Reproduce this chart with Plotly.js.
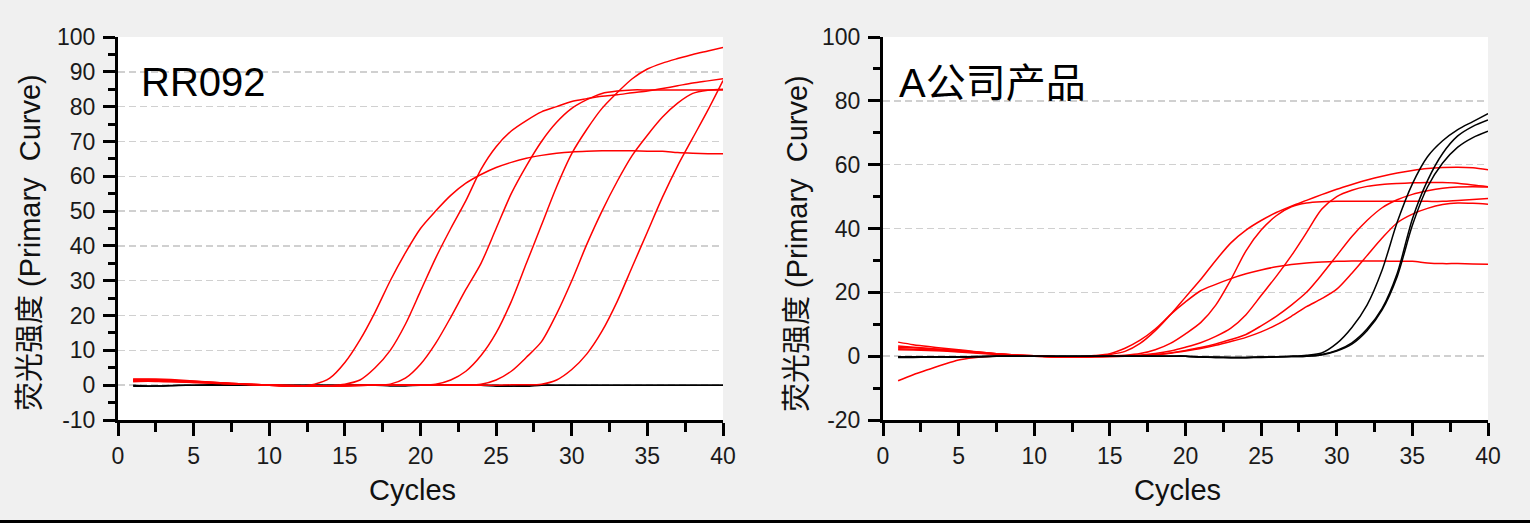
<!DOCTYPE html>
<html>
<head>
<meta charset="utf-8">
<script src="https://cdn.plot.ly/plotly-3.0.1.min.js"></script>
<style>
  html, body { margin: 0; padding: 0; background: #f0f0f0; }
  #chart { width: 1530px; height: 523px; }
</style>
</head>
<body>
<div id="chart"></div>
<script>
// ---- Data ----
const cycles = [1,2,3,4,5,6,7,8,9,10,11,12,13,14,15,16,17,18,19,20,21,22,23,24,25,26,27,28,29,30,31,32,33,34,35,36,37,38,39,40];

// Left panel: RR092 (red = samples, black = negative controls)
const rr092Red1 = [1.8,1.8,1.7,1.5,1.2,0.9,0.6,0.4,0.2,0.0,-0.2,-0.2,0.3,2,6.5,13,21,30,38,45,50,54.5,58,60.5,62.5,64,65.2,66,66.6,67,67.2,67.3,67.3,67.3,67.2,67.2,66.8,66.6,66.5,66.5];
const rr092Red2 = [1.5,1.5,1.4,1.2,1.0,0.8,0.6,0.4,0.2,0.1,-0.1,-0.2,-0.2,-0.1,0.3,1.5,5,10,17.5,27,36.5,45,53,62,68.5,73,76,78.5,80,81.5,82.3,83,83.4,84,84.5,85.2,86,86.8,87.4,88];
const rr092Red3 = [1.2,1.2,1.1,1.0,0.8,0.7,0.5,0.4,0.2,0.1,0.0,-0.1,-0.2,-0.2,-0.1,0.0,0.1,0.3,2,6,12,19.5,27.5,35,45,55,63,70,75.5,79.5,82,83.8,84.5,84.8,84.8,84.8,84.8,84.8,84.8,84.8];
const rr092Red4 = [1.6,1.6,1.5,1.3,1.1,0.9,0.6,0.4,0.2,0.0,-0.2,-0.3,-0.3,-0.2,-0.1,0.0,0.0,0.0,0.1,0.1,0.3,1.5,4,8.5,15,24,35,46,57,66.5,73.5,79.5,84,88,90.8,92.5,93.8,95,96,97];
const rr092Red5 = [1.3,1.4,1.3,1.1,0.9,0.7,0.5,0.3,0.1,0.0,-0.2,-0.2,-0.3,-0.3,-0.2,-0.1,0.0,0.0,0.0,0.0,0.0,0.1,0.1,0.3,1.5,4,8,12.5,20.5,30,40.5,50,58.5,66,71.8,77,81,83.8,84.7,85];
const rr092Red6 = [1.0,1.1,1.0,0.9,0.8,0.6,0.4,0.3,0.1,0.0,-0.1,-0.2,-0.3,-0.3,-0.2,-0.1,0.0,0.0,0.0,0.0,0.0,0.0,0.0,0.0,0.0,0.1,0.1,0.3,1.5,4.5,9,15.5,24,34,44,54,63,71,79,87.5];
const rr092Black1 = [0,-0.2,-0.2,-0.1,0,0,0,0,0,0,0,0,0,0,0,0,0,-0.2,-0.2,0,0,0,0,0,-0.3,-0.3,0,0,0,0,0,0,0,0,0,0,0,0,0,0];
const rr092Black2 = [-0.3,-0.3,-0.2,0,0,0.1,0.1,0,0,0,0,0,0,0,0,0,0,0,0,0,0,0,0,0,0,-0.2,-0.3,0,0,0,0,0,0,0,0,0,0,0,0,0];

// Right panel: A公司产品
const compRed1 = [4.4,3.6,3.0,2.5,2.0,1.5,1.0,0.6,0.3,0.1,-0.1,-0.2,-0.1,0.2,0.8,2.5,5,8.5,13,17,20.5,22.5,24.3,25.8,27,28,28.7,29.2,29.5,29.7,29.8,29.8,29.8,29.7,29.7,29.2,29,29,28.9,28.8];
const compRed2 = [2.8,2.6,2.4,2.1,1.8,1.4,1.0,0.6,0.3,0.1,-0.1,-0.2,-0.2,0.0,0.5,1.5,4,8,13,18.5,24,30,35.5,39.5,42.5,45,47,48.8,50.6,52.3,53.8,55.2,56.4,57.4,58.2,58.8,59.1,59.2,59,58.4];
const compRed3 = [2.3,2.2,2.0,1.8,1.5,1.2,0.9,0.6,0.3,0.1,-0.1,-0.2,-0.2,-0.1,0.1,0.3,0.8,2,4,7,10.5,16,24,33,39.5,44,46.8,48,48.4,48.5,48.5,48.5,48.5,48.5,48.5,48.5,48.5,48.8,49.1,49.4];
const compRed4 = [3.2,2.8,2.4,2.0,1.6,1.2,0.8,0.5,0.2,0.0,-0.2,-0.3,-0.3,-0.2,-0.1,0.0,0.3,0.8,1.6,2.8,4.2,6.2,8.8,13,19,25,31.5,38.7,46,50,52,53.2,53.8,54.1,54.3,54.4,54.4,54.2,53.6,53.1];
const compRed5 = [-7.7,-5.8,-4.2,-2.6,-1.2,-0.5,-0.1,0.1,0.1,0.0,-0.1,-0.2,-0.2,-0.1,0.0,0.1,0.2,0.5,1,1.8,2.7,3.8,5.2,6.8,9.5,12.5,16,20,25.5,31.5,37.5,42.5,46.5,49,50.7,51.8,52.6,53,53.1,53];
const compRed6 = [2.0,1.9,1.8,1.6,1.3,1.0,0.7,0.4,0.2,0.0,-0.2,-0.3,-0.3,-0.2,-0.1,0.0,0.2,0.4,0.9,1.6,2.4,3.4,4.6,5.9,7.6,9.8,12.5,15.5,18,21,26,31.5,37,41.8,44.5,46.3,47.5,48,47.9,47.6];
const compBlack1 = [-0.3,-0.3,-0.3,-0.3,-0.3,-0.2,-0.1,0,0,0,0,0,0,0,0,0,0,0,0,0,-0.3,-0.4,-0.4,-0.4,-0.3,-0.2,0,0.3,1,4,9,16,27,42,54,62.5,67.5,71,73.5,76];
const compBlack2 = [-0.4,-0.4,-0.3,-0.3,-0.3,-0.2,-0.1,0,0,0,0,0,0,0,0,0,0,0,0,0,-0.3,-0.4,-0.5,-0.5,-0.4,-0.3,-0.1,0,0.5,1.8,4.2,8.5,15,26,43,55,63.5,69,72,74];
const compBlack3 = [-0.2,-0.2,-0.2,-0.2,-0.2,-0.1,0,0,0,0,0,0,0,0,0,0,0,0,0,0,-0.2,-0.3,-0.4,-0.4,-0.3,-0.2,-0.1,0,0.4,1.6,3.8,8,14.5,25,41,53,60.5,65.5,68.5,70.5];

const leftYTicks = [-10,0,10,20,30,40,50,60,70,80,90,100];
const leftYLabels = ['-10','0','10','20','30','40','50','60','70','80','90','100'];
const rightYTicks = [-20,0,20,40,60,80,100];
const rightYLabels = ['-20','0','20','40','60','80','100'];
const xTicks = [0,5,10,15,20,25,30,35,40];

const panelTitles = ['RR092', 'A公司产品'];
const yTitle = '荧光强度 (Primary\u00a0\u00a0Curve)';
const xTitle = 'Cycles';

// ---- Build traces ----
function mk(y, color, xa, ya) {
  return { x: cycles, y: y, type: 'scatter', mode: 'lines', xaxis: xa, yaxis: ya,
           line: { color: color, width: 1.5, shape: 'spline', smoothing: 0.8 },
           hoverinfo: 'skip' };
}
const traces = [
  mk(rr092Black1, '#000000', 'x', 'y'),
  mk(rr092Black2, '#000000', 'x', 'y'),
  mk(rr092Red1, '#ff0000', 'x', 'y'),
  mk(rr092Red2, '#ff0000', 'x', 'y'),
  mk(rr092Red3, '#ff0000', 'x', 'y'),
  mk(rr092Red4, '#ff0000', 'x', 'y'),
  mk(rr092Red5, '#ff0000', 'x', 'y'),
  mk(rr092Red6, '#ff0000', 'x', 'y'),
  mk(compRed1, '#ff0000', 'x2', 'y2'),
  mk(compRed2, '#ff0000', 'x2', 'y2'),
  mk(compRed3, '#ff0000', 'x2', 'y2'),
  mk(compRed4, '#ff0000', 'x2', 'y2'),
  mk(compRed5, '#ff0000', 'x2', 'y2'),
  mk(compRed6, '#ff0000', 'x2', 'y2'),
  mk(compBlack1, '#000000', 'x2', 'y2'),
  mk(compBlack2, '#000000', 'x2', 'y2'),
  mk(compBlack3, '#000000', 'x2', 'y2')
];

// ---- Layout ----
const W = 1530, H = 523;
const FONT = 'Liberation Sans, Arial, Noto Sans CJK SC, sans-serif';

function xAxis(domain, anchor) {
  return {
    domain: domain, anchor: anchor, range: [0, 40],
    tickmode: 'array', tickvals: xTicks,
    ticks: 'outside', ticklen: 13, tickwidth: 3, tickcolor: '#000',
    showline: true, linewidth: 3, linecolor: '#000',
    showgrid: false, zeroline: false, fixedrange: true,
    minor: { dtick: 2.5, tick0: 0, ticks: 'outside', ticklen: 9, tickwidth: 3, tickcolor: '#000', showgrid: false },
    tickfont: { family: FONT, size: 23, color: '#1a1a1a' }
  };
}
function yAxis(range, tickvals, ticktext, minorDtick, anchor) {
  return {
    domain: [1 - 420 / H, 1 - 37 / H], anchor: anchor, range: range,
    tickmode: 'array', tickvals: tickvals, ticktext: ticktext,
    ticks: 'outside', ticklen: 12, tickwidth: 3, tickcolor: '#000',
    ticklabelstandoff: 3,
    showline: true, linewidth: 3, linecolor: '#000',
    showgrid: true, gridcolor: '#d0d0d0', gridwidth: 1.5, griddash: '7px,4px',
    zeroline: false, fixedrange: true,
    minor: { dtick: minorDtick, tick0: 0, ticks: 'outside', ticklen: 7, tickwidth: 3, tickcolor: '#000', showgrid: false },
    tickfont: { family: FONT, size: 23, color: '#1a1a1a' }
  };
}

const layout = {
  width: W, height: H,
  margin: { l: 0, r: 0, t: 0, b: 0 },
  paper_bgcolor: '#f0f0f0', plot_bgcolor: '#ffffff',
  showlegend: false,
  font: { family: FONT, color: '#111' },
  xaxis: xAxis([118 / W, 723 / W], 'y'),
  yaxis: yAxis([-10, 100], leftYTicks, leftYLabels, 5, 'x'),
  xaxis2: xAxis([883 / W, 1488 / W], 'y2'),
  yaxis2: yAxis([-20, 100], rightYTicks, rightYLabels, 10, 'x2'),
  annotations: [
    { text: panelTitles[0], xref: 'paper', yref: 'paper', x: 139 / W, y: 1 - 82 / H,
      xanchor: 'left', yanchor: 'middle', showarrow: false,
      font: { family: FONT, size: 40, color: '#000' } },
    { text: panelTitles[1], xref: 'paper', yref: 'paper', x: 897 / W, y: 1 - 83 / H,
      xanchor: 'left', yanchor: 'middle', showarrow: false,
      font: { family: FONT, size: 40, color: '#000' } },
    { text: yTitle, xref: 'paper', yref: 'paper', x: 30 / W, y: 1 - 243 / H,
      xanchor: 'center', yanchor: 'middle', textangle: -90, showarrow: false,
      font: { family: FONT, size: 29, color: '#111' } },
    { text: yTitle, xref: 'paper', yref: 'paper', x: 797 / W, y: 1 - 244 / H,
      xanchor: 'center', yanchor: 'middle', textangle: -90, showarrow: false,
      font: { family: FONT, size: 29, color: '#111' } },
    { text: xTitle, xref: 'paper', yref: 'paper', x: 412 / W, y: 1 - 490 / H,
      xanchor: 'center', yanchor: 'middle', showarrow: false,
      font: { family: FONT, size: 29, color: '#111' } },
    { text: xTitle, xref: 'paper', yref: 'paper', x: 1177 / W, y: 1 - 490 / H,
      xanchor: 'center', yanchor: 'middle', showarrow: false,
      font: { family: FONT, size: 29, color: '#111' } }
  ],
  shapes: [
    { type: 'rect', xref: 'paper', yref: 'paper', x0: 0, x1: 1, y0: 0, y1: 3 / H,
      fillcolor: '#000', line: { width: 0 }, layer: 'above' }
  ]
};

Plotly.newPlot('chart', traces, layout, { staticPlot: true, displayModeBar: false });
</script>
</body>
</html>
